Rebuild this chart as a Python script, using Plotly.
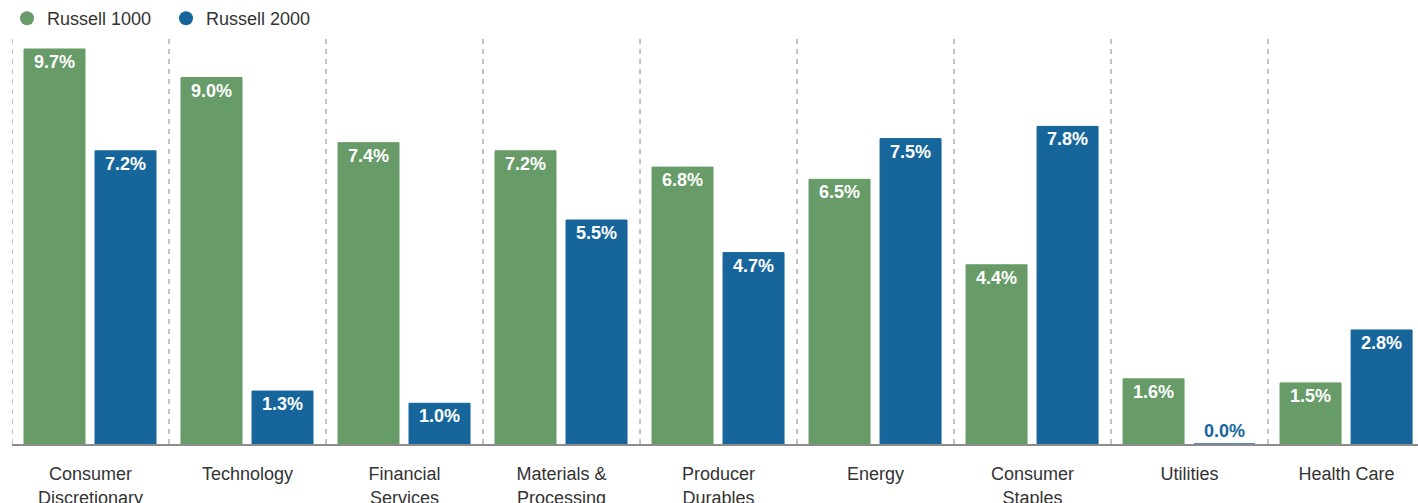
import plotly.graph_objects as go

categories = ["Consumer<br>Discretionary", "Technology", "Financial<br>Services",
              "Materials &<br>Processing", "Producer<br>Durables", "Energy",
              "Consumer<br>Staples", "Utilities", "Health Care"]
russell_1000 = [9.7, 9.0, 7.4, 7.2, 6.8, 6.5, 4.4, 1.6, 1.5]
russell_2000 = [7.2, 1.3, 1.0, 5.5, 4.7, 7.5, 7.8, 0.0, 2.8]
series_names = ["Russell 1000", "Russell 2000"]

GREEN = "#679b67"
BLUE = "#16669c"
FONT = "Arial, Liberation Sans, sans-serif"

x_idx = list(range(len(categories)))

fig = go.Figure()


def add_bars(values, color, offset, name):
    positions = ["inside" if v >= 0.5 else "outside" for v in values]
    fig.add_trace(go.Bar(
        x=x_idx, y=values, name=name, showlegend=False,
        width=0.3885, offset=offset,
        marker=dict(color=color, line=dict(color=color, width=1)),
        texttemplate="<b>%{y:.1f}%</b>",
        textposition=positions,
        insidetextanchor="end",
        textangle=0,
        constraintext="none",
        cliponaxis=False,
        insidetextfont=dict(color="white", size=18, family=FONT),
        outsidetextfont=dict(color=color, size=18, family=FONT),
        hoverinfo="skip",
    ))


add_bars(russell_1000, GREEN, -0.4236, series_names[0])
add_bars(russell_2000, BLUE, 0.0287, series_names[1])

# legend entries with circle markers
for name, color in zip(series_names, [GREEN, BLUE]):
    fig.add_trace(go.Scatter(
        x=[None], y=[None], mode="markers", name=name,
        marker=dict(symbol="circle", size=14, color=color),
    ))

shapes = []
for i in range(len(categories) + 1):
    shapes.append(dict(
        type="line", xref="x", yref="paper", x0=i - 0.5, x1=i - 0.5, y0=0, y1=1,
        line=dict(color="#888888", width=1, dash="5px,5px"), layer="below",
    ))

fig.update_layout(
    width=1418, height=503,
    margin=dict(l=12, r=0, t=38, b=59, autoexpand=False),
    paper_bgcolor="white", plot_bgcolor="white",
    barmode="overlay",
    font=dict(family=FONT, size=18, color="#333333"),
    shapes=shapes,
    showlegend=True,
    legend=dict(
        orientation="h", x=7 / 1418, y=1, xref="container", yref="container",
        xanchor="left", yanchor="top",
        font=dict(size=18, color="#333333"),
        entrywidth=114, itemsizing="trace",
        bgcolor="rgba(0,0,0,0)",
    ),
    xaxis=dict(
        range=[-0.5, 8.455],
        tickmode="array", tickvals=x_idx, ticktext=categories,
        showgrid=False, zeroline=False,
        showline=True, linecolor="#8c8c8c", linewidth=1.5,
        ticks="", ticklabelstandoff=13, automargin=False,
        tickfont=dict(size=18, color="#333333", family=FONT),
        fixedrange=True,
    ),
    yaxis=dict(
        range=[0, 9.97], showticklabels=False, showgrid=False,
        zeroline=False, showline=False, fixedrange=True, automargin=False,
    ),
)

fig.write_html("out.html")
